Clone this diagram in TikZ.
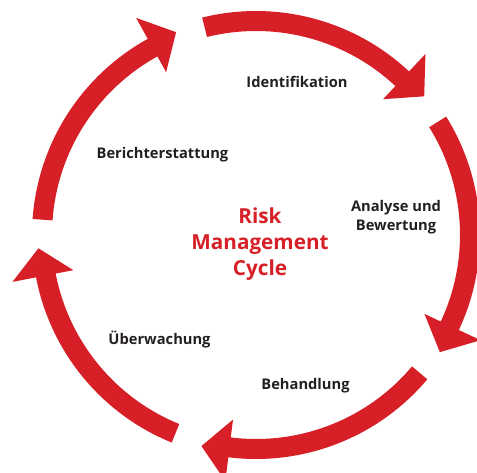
\documentclass[tikz,border=0pt]{standalone}
\usepackage{fontspec}
\setmainfont{Open Sans}
\definecolor{cyclered}{RGB}{214,31,38}
\definecolor{labelgray}{RGB}{35,31,32}
\newcommand{\cyclearrow}[1]{%
  \pgfmathsetmacro{\tailA}{#1}%
  \pgfmathsetmacro{\baseA}{#1-57}%
  \pgfmathsetmacro{\tipA}{#1-64.4}%
  \fill[cyclered] (\tailA:224pt) arc[start angle=\tailA, end angle=\baseA, radius=224pt]
    -- (\baseA:248pt) -- (\tipA:218pt) -- (\baseA:186pt) -- (\baseA:204pt)
    arc[start angle=\baseA, end angle=\tailA, radius=204pt] -- cycle;}
\begin{document}
\begin{tikzpicture}[x=1pt,y=1pt,
  steplabel/.style={font=\fontsize{14.7}{19}\selectfont\bfseries, text=labelgray, align=center, inner sep=0pt},
  titlelabel/.style={font=\fontsize{20.7}{26}\selectfont\bfseries, text=cyclered, align=center, inner sep=0pt}]
\useasboundingbox (0,0) rectangle (477,472);
\begin{scope}[shift={(256,237)}]
  \cyclearrow{103.9}
  \cyclearrow{31.9}
  \cyclearrow{-40.1}
  \cyclearrow{-112.1}
  \cyclearrow{175.9}
\end{scope}
\node[titlelabel] (title) at (260,228) {Risk\\Management\\Cycle};
\node[steplabel] (ident) at (297,390) {Identifikation};
\node[steplabel] (analyse) at (396,254.5) {Analyse und\\Bewertung};
\node[steplabel] (behand) at (305.5,86) {Behandlung};
\node[steplabel] (ueber) at (159.5,132) {Überwachung};
\node[steplabel] (bericht) at (162.5,317) {Berichterstattung};
\end{tikzpicture}
\end{document}
